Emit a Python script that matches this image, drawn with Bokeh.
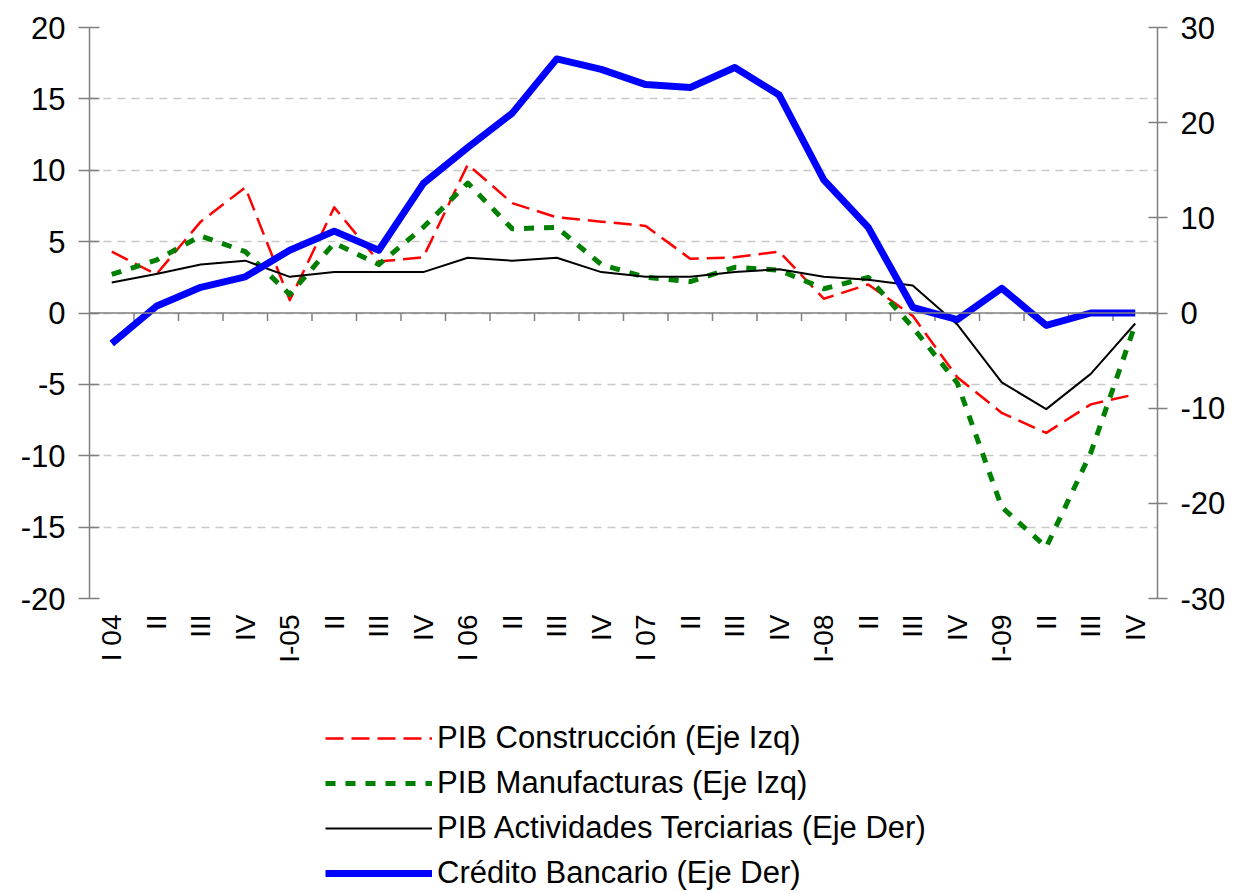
import math
import numpy as np
from bokeh.plotting import figure
from bokeh.layouts import column
from bokeh.models import (Range1d, LinearAxis, FixedTicker, Span, Legend, LegendItem,
                          ColumnDataSource)
from bokeh.embed import file_html
from bokeh.resources import INLINE

# ---------------- data ----------------
quarters = ["I 04", "II", "III", "IV", "I-05", "II", "III", "IV",
            "I 06", "II", "III", "IV", "I 07", "II", "III", "IV",
            "I-08", "II", "III", "IV", "I-09", "II", "III", "IV"]

pib_construccion = [4.3, 2.7, 6.4, 8.8, 0.9, 7.4, 3.6, 3.9,
                    10.4, 7.7, 6.7, 6.4, 6.1, 3.8, 3.9, 4.3,
                    1.0, 2.0, -0.2, -4.5, -7.0, -8.4, -6.4, -5.7]

pib_manufacturas = [2.7, 3.7, 5.4, 4.3, 1.3, 4.9, 3.4, 6.0,
                    9.1, 5.9, 6.0, 3.4, 2.5, 2.2, 3.2, 3.0,
                    1.7, 2.5, -1.0, -4.9, -13.6, -16.4, -9.8, -0.8]

pib_terciarias = [3.2, 4.1, 5.1, 5.5, 3.8, 4.3, 4.3, 4.3,
                  5.8, 5.5, 5.8, 4.3, 3.8, 3.8, 4.3, 4.6,
                  3.8, 3.5, 2.9, -1.2, -7.3, -10.1, -6.4, -1.1]

credito_bancario = [-3.2, 0.7, 2.7, 3.8, 6.6, 8.6, 6.6, 13.6,
                    17.4, 21.0, 26.7, 25.6, 24.0, 23.7, 25.8, 22.9,
                    14.0, 9.0, 0.6, -0.7, 2.6, -1.3, 0.0, 0.0]

left_ticks = [-20, -15, -10, -5, 0, 5, 10, 15, 20]
right_ticks = [-30, -20, -10, 0, 10, 20, 30]

legend_labels = ["PIB Construcción (Eje Izq)",
                 "PIB Manufacturas (Eje Izq)",
                 "PIB Actividades Terciarias (Eje Der)",
                 "Crédito Bancario (Eje Der)"]

# series styles (colour, width, dash)
styles = [("#ff0000", 2.5, "18 8"),
          ("#008000", 5, "10 10"),
          ("black", 2, "solid"),
          ("#0000ff", 7, "solid")]

# ---------------- main figure ----------------
xs = list(range(len(quarters)))
src = ColumnDataSource(dict(x=xs, con=pib_construccion, man=pib_manufacturas,
                            ter=pib_terciarias, cre=credito_bancario))

p = figure(frame_width=1068, frame_height=571,
           x_range=Range1d(-0.5, len(quarters) - 0.5),
           y_range=Range1d(left_ticks[0], left_ticks[-1]),
           output_backend="svg", toolbar_location=None,
           min_border_left=89, min_border_top=27,
           min_border_right=73, min_border_bottom=90)
p.outline_line_color = None
p.background_fill_color = "white"
p.border_fill_color = "white"
p.extra_y_ranges = {"right": Range1d(right_ticks[0], right_ticks[-1])}

GRAY = "#808080"
TICK_FONT = "Liberation Sans"

# x axis (labels only)
xa = p.xaxis[0]
xa.ticker = FixedTicker(ticks=xs)
xa.major_label_overrides = {i: q for i, q in enumerate(quarters)}
xa.major_label_orientation = math.pi / 2
xa.axis_line_color = None
xa.major_tick_line_color = None
xa.minor_tick_line_color = None
xa.major_tick_out = 0
xa.major_tick_in = 0
xa.major_label_standoff = 16
xa.major_label_text_font = TICK_FONT
xa.major_label_text_font_size = "28px"
xa.major_label_text_color = "black"


def hyphen_labels(ticks):
    return {t: str(t) for t in ticks}


def style_y_axis(ax, ticks, tin, tout):
    ax.ticker = FixedTicker(ticks=ticks)
    ax.major_label_overrides = hyphen_labels(ticks)
    ax.axis_line_color = GRAY
    ax.axis_line_width = 1.5
    ax.major_tick_line_color = GRAY
    ax.major_tick_line_width = 1.5
    ax.major_tick_in = tin
    ax.major_tick_out = tout
    ax.minor_tick_line_color = None
    ax.major_label_standoff = 13
    ax.major_label_text_font = TICK_FONT
    ax.major_label_text_font_size = "31px"
    ax.major_label_text_color = "black"


style_y_axis(p.yaxis[0], left_ticks, 10, 11)
ra = LinearAxis(y_range_name="right")
style_y_axis(ra, right_ticks, 9, 10)
p.add_layout(ra, "right")

# grid
p.xgrid.grid_line_color = None
p.ygrid.ticker = FixedTicker(ticks=left_ticks)
p.ygrid.grid_line_color = "#c8c8c8"
p.ygrid.grid_line_dash = "8 6"
p.ygrid.grid_line_width = 1.5

# zero line with category boundary ticks
p.add_layout(Span(location=0, dimension="width", line_color=GRAY, line_width=1.5))
bounds = list(np.arange(len(quarters) - 1) + 0.5)
tick_len = 8 / (571 / (left_ticks[-1] - left_ticks[0]))
p.segment(x0=bounds, y0=[0] * len(bounds), x1=bounds, y1=[-tick_len] * len(bounds),
          line_color=GRAY, line_width=1.5)

# series
cols = ["con", "man", "ter", "cre"]
yranges = ["default", "default", "right", "right"]
for c, yr, (color, w, dash) in zip(cols, yranges, styles):
    p.line("x", c, source=src, line_color=color, line_width=w, line_dash=dash,
           y_range_name=yr, line_join="round")

# ---------------- legend strip (below the chart) ----------------
lf = figure(frame_width=1230, frame_height=203, x_range=Range1d(0, 1),
            y_range=Range1d(0, 1), output_backend="svg", toolbar_location=None,
            x_axis_type=None, y_axis_type=None,
            min_border_left=0, min_border_right=0, min_border_top=0,
            min_border_bottom=0)
lf.outline_line_color = None
lf.xgrid.grid_line_color = None
lf.ygrid.grid_line_color = None

items = []
for lab, (color, w, dash) in zip(legend_labels, styles):
    # invisible (NaN) sample glyph, used only for the legend key
    r = lf.line(x=[0, 1], y=[np.nan, np.nan], line_color=color, line_width=w,
                line_dash=dash)
    items.append(LegendItem(label=lab, renderers=[r]))

legend = Legend(items=items, location=(325, 0), orientation="vertical",
                glyph_width=107, glyph_height=20, label_height=36,
                label_standoff=5, spacing=9, padding=0, margin=0,
                background_fill_alpha=0, border_line_color=None,
                label_text_font=TICK_FONT, label_text_font_size="31px",
                label_text_color="black")
lf.add_layout(legend, "center")

layout = column(p, lf, spacing=0)
open("out.html", "w").write(file_html(layout, INLINE))
